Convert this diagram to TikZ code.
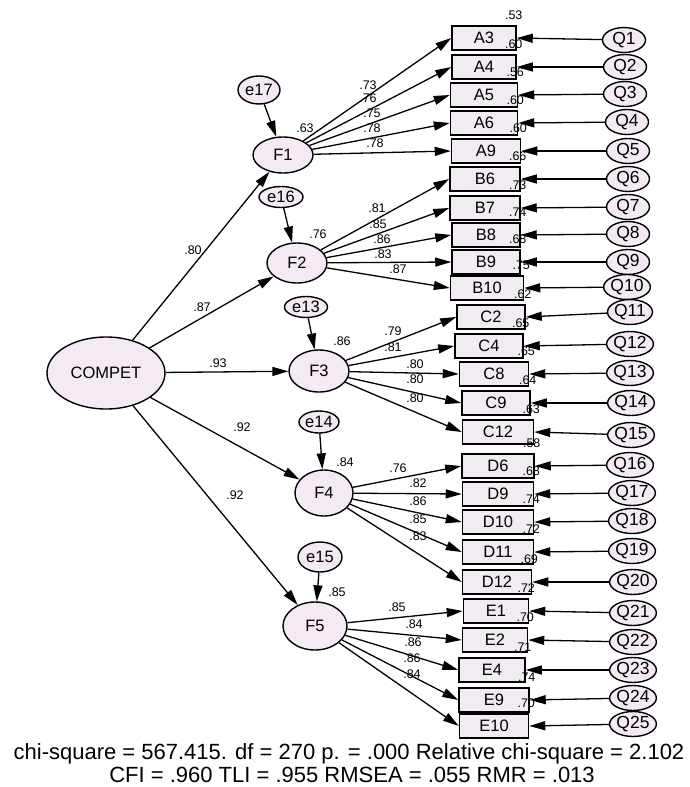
\documentclass[tikz,border=0pt]{standalone}
\usepackage{fontspec}
\setmainfont{Liberation Sans}
\usetikzlibrary{shapes.geometric,arrows.meta}
\definecolor{latfill}{RGB}{244,234,244}
\definecolor{obsfill}{RGB}{241,236,241}

\begin{document}
\begin{tikzpicture}[x=1pt,y=-1pt,
  lat/.style={draw, ellipse, fill=latfill, line width=1.4pt, inner sep=0pt, font=\fontsize{16.5}{16.5}\selectfont},
  qvar/.style={lat, minimum width=43pt, minimum height=25pt, font=\fontsize{17.5}{17.5}\selectfont},
  obs/.style={draw, rectangle, fill=obsfill, line width=1.5pt, minimum height=24pt, inner sep=0pt, font=\fontsize{16.5}{16.5}\selectfont},
  coef/.style={inner sep=0pt, font=\fontsize{12.5}{12.5}\selectfont},
  arr/.style={draw, line width=1.3pt, -{Triangle[length=16pt,width=9pt]}}]
\useasboundingbox (0,0) rectangle (689,787);

% latent variables
\node[lat, minimum width=118pt, minimum height=72pt] (COMPET) at (106,373) {COMPET};
\node[lat, minimum width=60pt, minimum height=36pt] (F1) at (283,155) {F1};
\node[lat, minimum width=60pt, minimum height=40pt] (F2) at (297,263) {F2};
\node[lat, minimum width=60pt, minimum height=42pt] (F3) at (319,371) {F3};
\node[lat, minimum width=58pt, minimum height=46pt] (F4) at (324,493) {F4};
\node[lat, minimum width=64pt, minimum height=48pt] (F5) at (315,626) {F5};

% disturbances
\node[lat, minimum width=42pt, minimum height=28pt] (e17) at (259,90) {e17};
\node[lat, minimum width=44pt, minimum height=21pt] (e16) at (281,197) {e16};
\node[lat, minimum width=43pt, minimum height=21pt] (e13) at (306,307) {e13};
\node[lat, minimum width=40pt, minimum height=22pt] (e14) at (319,422) {e14};
\node[lat, minimum width=44pt, minimum height=30pt] (e15) at (320,557) {e15};

% items
\node[obs, minimum width=64pt] (A3) at (484,38) {A3};
\node[obs, minimum width=64pt] (A4) at (484,67) {A4};
\node[obs, minimum width=67pt] (A5) at (484,95) {A5};
\node[obs, minimum width=67pt] (A6) at (484,123) {A6};
\node[obs, minimum width=69pt] (A9) at (486,151) {A9};
\node[obs, minimum width=70pt] (B6) at (485,179) {B6};
\node[obs, minimum width=70pt] (B7) at (485,208) {B7};
\node[obs, minimum width=68pt] (B8) at (486,235) {B8};
\node[obs, minimum width=68pt] (B9) at (486,262) {B9};
\node[obs, minimum width=73pt] (B10) at (487,288) {B10};
\node[obs, minimum width=68pt] (C2) at (491,317) {C2};
\node[obs, minimum width=68pt] (C4) at (489,346) {C4};
\node[obs, minimum width=69pt] (C8) at (494,374) {C8};
\node[obs, minimum width=68pt] (C9) at (496,403) {C9};
\node[obs, minimum width=71pt] (C12) at (498,432) {C12};
\node[obs, minimum width=72pt] (D6) at (498,466) {D6};
\node[obs, minimum width=71pt] (D9) at (498,494) {D9};
\node[obs, minimum width=71pt] (D10) at (498,522) {D10};
\node[obs, minimum width=71pt] (D11) at (498,552) {D11};
\node[obs, minimum width=69pt] (D12) at (497,582) {D12};
\node[obs, minimum width=65pt] (E1) at (496,611) {E1};
\node[obs, minimum width=65pt] (E2) at (495,640) {E2};
\node[obs, minimum width=66pt] (E4) at (492,670) {E4};
\node[obs, minimum width=70pt] (E9) at (494,700) {E9};
\node[obs, minimum width=69pt] (E10) at (494,726) {E10};

% item errors
\node[qvar] (Q1) at (624,40) {Q1};
\node[qvar] (Q2) at (625,67) {Q2};
\node[qvar] (Q3) at (625,94) {Q3};
\node[qvar] (Q4) at (627,122) {Q4};
\node[qvar] (Q5) at (628,151) {Q5};
\node[qvar] (Q6) at (628,179) {Q6};
\node[qvar] (Q7) at (628,207) {Q7};
\node[qvar] (Q8) at (628,234) {Q8};
\node[qvar] (Q9) at (628,262) {Q9};
\node[qvar] (Q10) at (627,287) {Q10};
\node[qvar] (Q11) at (630,312) {Q11};
\node[qvar] (Q12) at (630,344) {Q12};
\node[qvar] (Q13) at (630,373) {Q13};
\node[qvar] (Q14) at (631,403) {Q14};
\node[qvar] (Q15) at (631,435) {Q15};
\node[qvar] (Q16) at (630,465) {Q16};
\node[qvar] (Q17) at (632,493) {Q17};
\node[qvar] (Q18) at (632,521) {Q18};
\node[qvar] (Q19) at (632,551) {Q19};
\node[qvar] (Q20) at (633,582) {Q20};
\node[qvar] (Q21) at (633,613) {Q21};
\node[qvar] (Q22) at (633,642) {Q22};
\node[qvar] (Q23) at (633,670) {Q23};
\node[qvar] (Q24) at (633,698) {Q24};
\node[qvar] (Q25) at (633,724) {Q25};

% second order paths
\path[arr] (COMPET) -- (F1);
\path[arr] (COMPET) -- (F2);
\path[arr] (COMPET) -- (F3);
\path[arr] (COMPET) -- (F4);
\path[arr] (COMPET) -- (F5);
\path[arr] (e17) -- (F1);
\path[arr] (e16) -- (F2);
\path[arr] (e13) -- (F3);
\path[arr] (e14) -- (F4);
\path[arr] (e15) -- (F5);

% first order paths
\path[arr] (F1) -- (A3.west);
\path[arr] (F1) -- (A4.west);
\path[arr] (F1) -- (A5.west);
\path[arr] (F1) -- (A6.west);
\path[arr] (F1) -- (A9.west);
\path[arr] (F2) -- (B6.west);
\path[arr] (F2) -- (B7.west);
\path[arr] (F2) -- (B8.west);
\path[arr] (F2) -- (B9.west);
\path[arr] (F2) -- (B10.west);
\path[arr] (F3) -- (C2.west);
\path[arr] (F3) -- (C4.west);
\path[arr] (F3) -- (C8.west);
\path[arr] (F3) -- (C9.west);
\path[arr] (F3) -- (C12.west);
\path[arr] (F4) -- (D6.west);
\path[arr] (F4) -- (D9.west);
\path[arr] (F4) -- (D10.west);
\path[arr] (F4) -- (D11.west);
\path[arr] (F4) -- (D12.west);
\path[arr] (F5) -- (E1.west);
\path[arr] (F5) -- (E2.west);
\path[arr] (F5) -- (E4.west);
\path[arr] (F5) -- (E9.west);
\path[arr] (F5) -- (E10.west);

% error paths
\path[arr] (Q1) -- (A3.east);
\path[arr] (Q2) -- (A4.east);
\path[arr] (Q3) -- (A5.east);
\path[arr] (Q4) -- (A6.east);
\path[arr] (Q5) -- (A9.east);
\path[arr] (Q6) -- (B6.east);
\path[arr] (Q7) -- (B7.east);
\path[arr] (Q8) -- (B8.east);
\path[arr] (Q9) -- (B9.east);
\path[arr] (Q10) -- (B10.east);
\path[arr] (Q11) -- (C2.east);
\path[arr] (Q12) -- (C4.east);
\path[arr] (Q13) -- (C8.east);
\path[arr] (Q14) -- (C9.east);
\path[arr] (Q15) -- (C12.east);
\path[arr] (Q16) -- (D6.east);
\path[arr] (Q17) -- (D9.east);
\path[arr] (Q18) -- (D10.east);
\path[arr] (Q19) -- (D11.east);
\path[arr] (Q20) -- (D12.east);
\path[arr] (Q21) -- (E1.east);
\path[arr] (Q22) -- (E2.east);
\path[arr] (Q23) -- (E4.east);
\path[arr] (Q24) -- (E9.east);
\path[arr] (Q25) -- (E10.east);

% second order loadings
\node[coef] (gF1) at (193,250) {.80};
\node[coef] (gF2) at (202,307) {.87};
\node[coef] (gF3) at (218,363) {.93};
\node[coef] (gF4) at (242,427) {.92};
\node[coef] (gF5) at (235,495) {.92};
\node[coef] (rF1) at (305,128) {.63};
\node[coef] (rF2) at (318,234) {.76};
\node[coef] (rF3) at (342,341) {.86};
\node[coef] (rF4) at (345,462) {.84};
\node[coef] (rF5) at (337,592) {.85};

% first order loadings
\node[coef] (lA3) at (368,85) {.73};
\node[coef] (lA4) at (368,98) {.76};
\node[coef] (lA5) at (372,113) {.75};
\node[coef] (lA6) at (372,128) {.78};
\node[coef] (lA9) at (375,143) {.78};
\node[coef] (lB6) at (377,208) {.81};
\node[coef] (lB7) at (378,224) {.85};
\node[coef] (lB8) at (382,239) {.86};
\node[coef] (lB9) at (383,254) {.83};
\node[coef] (lB10) at (398,269) {.87};
\node[coef] (lC2) at (393,331) {.79};
\node[coef] (lC4) at (393,347) {.81};
\node[coef] (lC8) at (415,364) {.80};
\node[coef] (lC9) at (415,379) {.80};
\node[coef] (lC12) at (415,398) {.80};
\node[coef] (lD6) at (398,468) {.76};
\node[coef] (lD9) at (418,483) {.82};
\node[coef] (lD10) at (418,501) {.86};
\node[coef] (lD11) at (418,519) {.85};
\node[coef] (lD12) at (418,536) {.83};
\node[coef] (lE1) at (397,607) {.85};
\node[coef] (lE2) at (414,624) {.84};
\node[coef] (lE4) at (413,642) {.86};
\node[coef] (lE9) at (412,658) {.86};
\node[coef] (lE10) at (412,674) {.84};

% squared multiple correlations
\node[coef] (rA3) at ([shift={(-3,-10)}]A3.north east) {.53};
\node[coef] (rA4) at ([shift={(-3,-10)}]A4.north east) {.60};
\node[coef] (rA5) at ([shift={(-3,-10)}]A5.north east) {.56};
\node[coef] (rA6) at ([shift={(-3,-10)}]A6.north east) {.60};
\node[coef] (rA9) at ([shift={(-3,-10)}]A9.north east) {.60};
\node[coef] (rB6) at ([shift={(-3,-10)}]B6.north east) {.66};
\node[coef] (rB7) at ([shift={(-3,-10)}]B7.north east) {.73};
\node[coef] (rB8) at ([shift={(-3,-10)}]B8.north east) {.74};
\node[coef] (rB9) at ([shift={(-3,-10)}]B9.north east) {.68};
\node[coef] (rB10) at ([shift={(-3,-10)}]B10.north east) {.75};
\node[coef] (rC2) at ([shift={(-3,-10)}]C2.north east) {.62};
\node[coef] (rC4) at ([shift={(-3,-10)}]C4.north east) {.65};
\node[coef] (rC8) at ([shift={(-3,-10)}]C8.north east) {.65};
\node[coef] (rC9) at ([shift={(-3,-10)}]C9.north east) {.64};
\node[coef] (rC12) at ([shift={(-3,-10)}]C12.north east) {.63};
\node[coef] (rD6) at ([shift={(-3,-10)}]D6.north east) {.58};
\node[coef] (rD9) at ([shift={(-3,-10)}]D9.north east) {.68};
\node[coef] (rD10) at ([shift={(-3,-10)}]D10.north east) {.74};
\node[coef] (rD11) at ([shift={(-3,-10)}]D11.north east) {.72};
\node[coef] (rD12) at ([shift={(-3,-10)}]D12.north east) {.69};
\node[coef] (rE1) at ([shift={(-3,-10)}]E1.north east) {.72};
\node[coef] (rE2) at ([shift={(-3,-10)}]E2.north east) {.70};
\node[coef] (rE4) at ([shift={(-3,-10)}]E4.north east) {.71};
\node[coef] (rE9) at ([shift={(-3,-10)}]E9.north east) {.74};
\node[coef] (rE10) at ([shift={(-3,-10)}]E10.north east) {.70};

% fit indices
\node[font=\fontsize{22}{22}\selectfont] (fit1) at (349,754) {chi-square = 567.415. df = 270 p. = .000 Relative chi-square = 2.102};
\node[font=\fontsize{22}{22}\selectfont] (fit2) at (352,775) {CFI = .960 TLI = .955 RMSEA = .055 RMR = .013};
\end{tikzpicture}
\end{document}
